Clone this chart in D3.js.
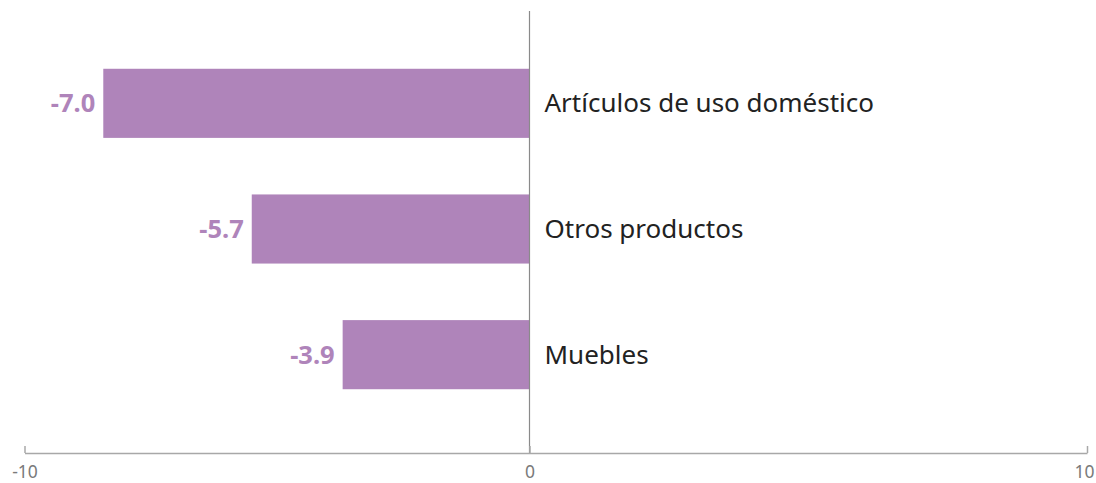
<!DOCTYPE html>
<html>
<head>
<meta charset="utf-8">
<script src="https://cdn.jsdelivr.net/npm/d3@7"></script>
<style>
  html, body { margin: 0; padding: 0; background: #fff; }
  svg { display: block; }
</style>
</head>
<body>
<svg id="chart" width="1096" height="483"></svg>
<script>
const categories = ["Artículos de uso doméstico", "Otros productos", "Muebles"];
const barValues = [-8.44, -5.5, -3.7];
const valueLabels = ["-7.0", "-5.7", "-3.9"];
const tickValues = [-10, 0, 10];
const tickLabels = ["-10", "0", "10"];

const svg = d3.select("#chart");
const font = "'Noto Sans', 'Open Sans', sans-serif";
const barColor = "#af84ba";

const x = d3.scaleLinear().domain([-10, 0, 10]).range([24.5, 529.5, 1087]);
const y = d3.scaleBand().domain(categories).range([40.5, 417.5])
  .paddingInner(0.45).paddingOuter(0.225);

const axisY = 453;

// bars
svg.append("g").selectAll("rect").data(categories).join("rect")
  .attr("x", (d, i) => x(barValues[i]))
  .attr("y", d => y(d))
  .attr("width", (d, i) => x(0) - x(barValues[i]))
  .attr("height", y.bandwidth())
  .attr("fill", barColor);

// value labels
svg.append("g").selectAll("text").data(categories).join("text")
  .attr("x", (d, i) => x(barValues[i]) - 8)
  .attr("y", d => y(d) + y.bandwidth() / 2)
  .attr("dy", "0.35em")
  .attr("text-anchor", "end")
  .attr("font-family", font)
  .attr("font-weight", "bold")
  .attr("font-size", 25.5)
  .attr("fill", barColor)
  .text((d, i) => valueLabels[i]);

// category labels
svg.append("g").selectAll("text").data(categories).join("text")
  .attr("x", x(0) + 15)
  .attr("y", d => y(d) + y.bandwidth() / 2)
  .attr("dy", "0.35em")
  .attr("font-family", font)
  .attr("font-size", 26)
  .attr("fill", "#222")
  .text(d => d);

// zero line
svg.append("line")
  .attr("x1", x(0)).attr("x2", x(0))
  .attr("y1", 11).attr("y2", axisY)
  .attr("stroke", "#8a8a8a").attr("stroke-width", 1.2);

// x axis
const axis = d3.axisBottom(x).tickValues(tickValues)
  .tickFormat((d, i) => tickLabels[i]).tickSize(-7).tickSizeOuter(0).tickPadding(13);
const ax = svg.append("g").attr("transform", `translate(0,${axisY})`).call(axis);
ax.select(".domain").attr("stroke", "#a8a8a8").attr("stroke-width", 1.5);
ax.selectAll(".tick line").attr("stroke", "#a8a8a8").attr("stroke-width", 1.5);
ax.selectAll(".tick text")
  .attr("font-family", font).attr("font-size", 17.5).attr("fill", "#7a7a7a");
ax.selectAll(".tick text").filter(d => d === tickValues[tickValues.length - 1])
  .attr("text-anchor", "end").attr("dx", 7);
</script>
</body>
</html>
